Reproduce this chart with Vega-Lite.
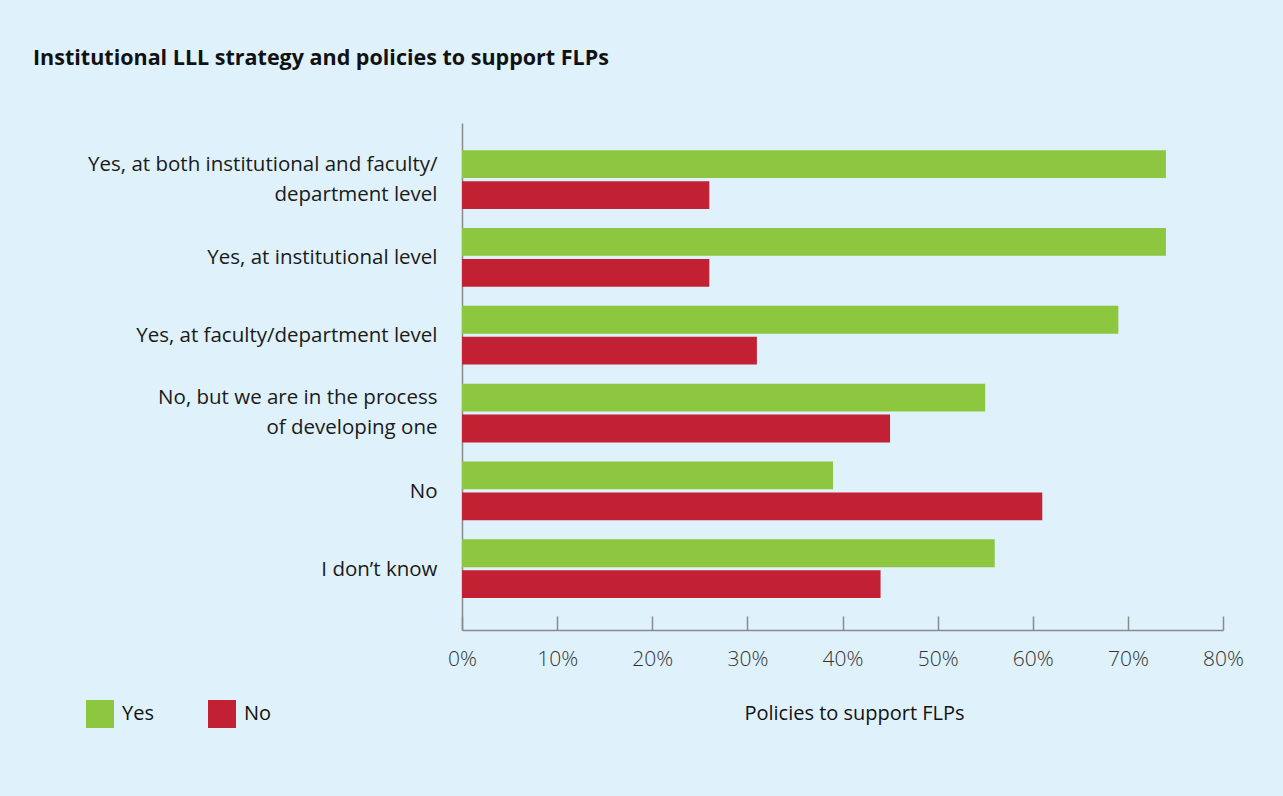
{
  "$schema": "https://vega.github.io/schema/vega-lite/v6.json",
  "autosize": {"type": "none"},
  "width": 761,
  "height": 507,
  "padding": {"left": 462, "top": 123, "right": 60, "bottom": 166},
  "background": "#dff1fb",
  "config": {
    "view": {"stroke": null},
    "font": "Open Sans"
  },
  "title": {
    "text": "Institutional LLL strategy and policies to support FLPs",
    "anchor": "start",
    "frame": "group",
    "dx": -429,
    "offset": 54,
    "fontSize": 21.5,
    "fontWeight": "bold",
    "color": "#111111",
    "font": "Open Sans"
  },
  "data": {
    "values": [
      {"category": "Yes, at both institutional and faculty/|department level", "series": "Yes", "value": 74},
      {"category": "Yes, at both institutional and faculty/|department level", "series": "No", "value": 26},
      {"category": "Yes, at institutional level", "series": "Yes", "value": 74},
      {"category": "Yes, at institutional level", "series": "No", "value": 26},
      {"category": "Yes, at faculty/department level", "series": "Yes", "value": 69},
      {"category": "Yes, at faculty/department level", "series": "No", "value": 31},
      {"category": "No, but we are in the process|of developing one", "series": "Yes", "value": 55},
      {"category": "No, but we are in the process|of developing one", "series": "No", "value": 45},
      {"category": "No", "series": "Yes", "value": 39},
      {"category": "No", "series": "No", "value": 61},
      {"category": "I don’t know", "series": "Yes", "value": 56},
      {"category": "I don’t know", "series": "No", "value": 44}
    ]
  },
  "mark": {"type": "bar"},
  "encoding": {
    "y": {
      "field": "category",
      "type": "nominal",
      "sort": null,
      "scale": {"paddingInner": 0.245, "paddingOuter": 0.38, "align": 0.46},
      "axis": {
        "title": null,
        "ticks": false,
        "domainColor": "#8a8a8a",
        "domainWidth": 1.5,
        "labelFontSize": 20.5,
        "labelColor": "#1a1a1a",
        "labelPadding": 25,
        "labelLineHeight": 30,
        "labelLimit": 500,
        "labelOffset": {"condition": {"test": "indexof(datum.value, '|') >= 0", "value": -15}, "value": 1},
        "labelExpr": "split(datum.label, '|')"
      }
    },
    "yOffset": {
      "field": "series",
      "type": "nominal",
      "sort": ["Yes", "No"],
      "scale": {"paddingInner": 0.1, "paddingOuter": 0}
    },
    "x": {
      "field": "value",
      "type": "quantitative",
      "scale": {"domain": [0, 80], "nice": false},
      "axis": {
        "title": "Policies to support FLPs",
        "titleFontSize": 20,
        "titleFontWeight": "normal",
        "titleColor": "#111111",
        "titlePadding": 34,
        "titleX": 392,
        "values": [0, 10, 20, 30, 40, 50, 60, 70, 80],
        "labelExpr": "datum.value + '%'",
        "labelFlush": false,
        "grid": false,
        "domainColor": "#8a8a8a",
        "domainWidth": 1.5,
        "tickColor": "#8a8a8a",
        "tickWidth": 1.5,
        "tickSize": -14,
        "labelFontSize": 21,
        "labelFontWeight": 300,
        "labelColor": "#333333",
        "labelPadding": 32
      }
    },
    "color": {
      "field": "series",
      "type": "nominal",
      "scale": {"domain": ["Yes", "No"], "range": ["#8dc63f", "#c22033"]},
      "legend": {
        "title": null,
        "orient": "none",
        "direction": "horizontal",
        "legendX": -376,
        "legendY": 577,
        "symbolType": "square",
        "symbolSize": 784,
        "symbolStrokeWidth": 0,
        "labelFontSize": 20,
        "labelColor": "#111111",
        "labelOffset": 8,
        "columnPadding": 54
      }
    }
  }
}
